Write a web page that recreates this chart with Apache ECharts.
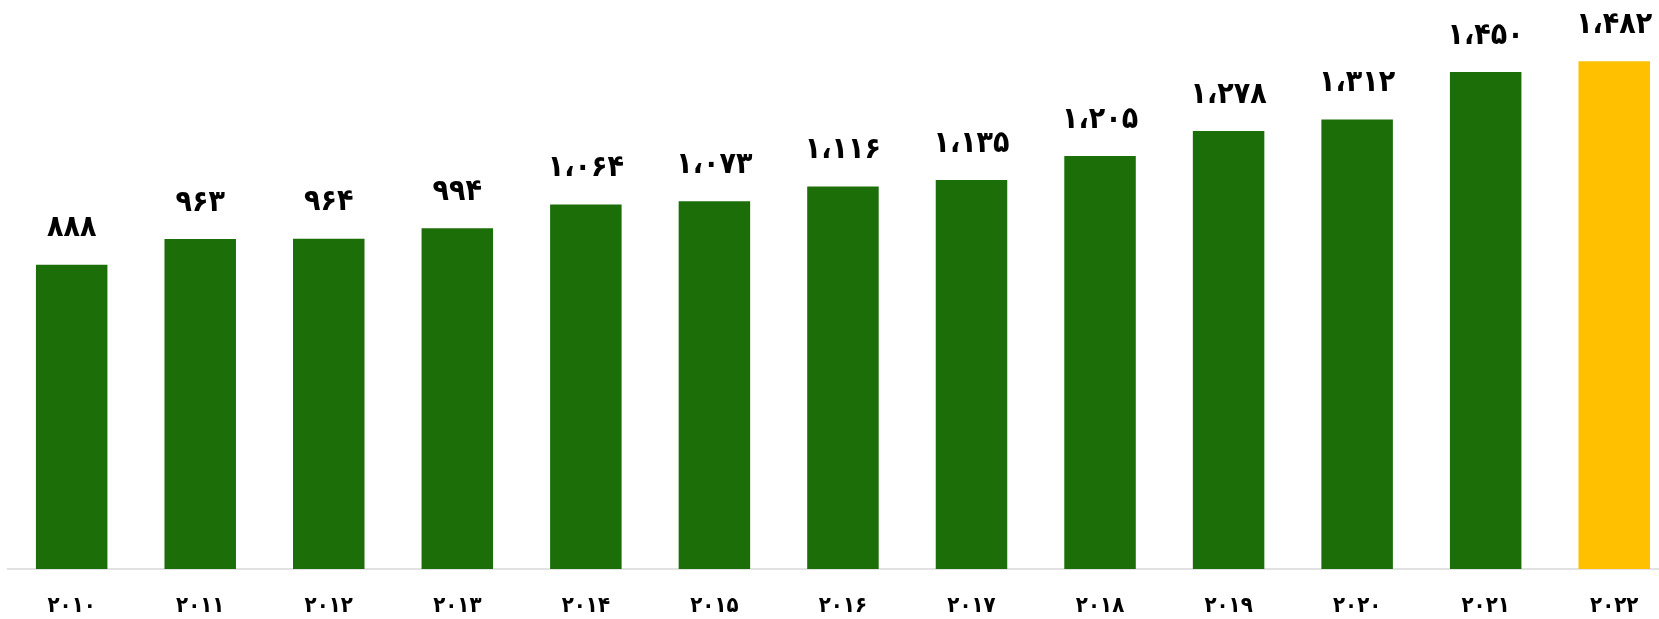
<!DOCTYPE html>
<html><head><meta charset="utf-8">
<script src="https://cdn.jsdelivr.net/npm/echarts@6/dist/echarts.min.js"></script>
<style>html,body{margin:0;padding:0;background:#fff}#c{width:1659px;height:619px}</style>
</head><body><div id="c"></div>
<script>
var years = ['۲۰۱۰','۲۰۱۱','۲۰۱۲','۲۰۱۳','۲۰۱۴','۲۰۱۵','۲۰۱۶','۲۰۱۷','۲۰۱۸','۲۰۱۹','۲۰۲۰','۲۰۲۱','۲۰۲۲'];
var values = [888, 963, 964, 994, 1064, 1073, 1116, 1135, 1205, 1278, 1312, 1450, 1482];
var highlightIndex = 12;
var green = '#1C6E08', yellow = '#FFC000';
function fa(n){
  var d='۰۱۲۳۴۵۶۷۸۹';
  var s=String(n);
  var out='';
  for(var i=0;i<s.length;i++){ out += d[+s[i]]; }
  if(out.length>3){ out = out.slice(0,out.length-3)+'،'+out.slice(out.length-3); }
  return out;
}
var ff = '"DejaVu Sans Condensed", "DejaVu Sans"';
var chart = echarts.init(document.getElementById('c'));
chart.setOption({
  animation:false,
  grid:{left:7.4, right:-19.5, top:20.7, bottom:50, outerBoundsMode:'none', containLabel:false},
  xAxis:{type:'category', data:years,
    axisLine:{lineStyle:{color:'#d9d9d9', width:1.5}},
    axisTick:{show:false},
    axisLabel:{interval:0, margin:26, fontFamily:ff, fontWeight:'bold', fontSize:22, color:'#000'}},
  yAxis:{type:'value', min:0, max:1600, show:false, splitLine:{show:false}},
  series:[{type:'bar', barWidth:71.5,
    data: values.map(function(v,i){ return {value:v, itemStyle:{color: i===highlightIndex?yellow:green}}; }),
    label:{show:true, position:'top', distance:21, fontFamily:ff, fontWeight:'bold', fontSize:30, color:'#000',
      formatter:function(p){ return fa(p.value); }}
  }]
});
</script></body></html>
